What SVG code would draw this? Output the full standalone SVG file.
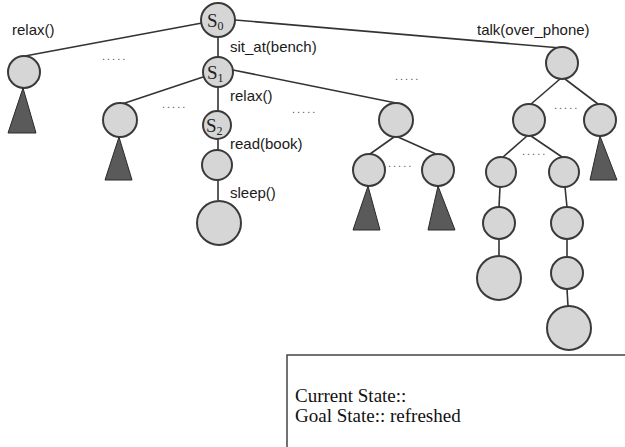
<svg xmlns="http://www.w3.org/2000/svg" width="625" height="447" viewBox="0 0 625 447">
<style>
.n{fill:#d6d6d6;stroke:#3a3a3a;stroke-width:2}
.t{fill:#5a5a5a;stroke:#2a2a2a;stroke-width:1}
.e{stroke:#333;stroke-width:1.6;fill:none}
.l{font-family:"Liberation Sans",Arial,sans-serif;font-size:15px;fill:#1a1a1a}
.d{font-family:"Liberation Sans",Arial,sans-serif;font-size:11px;fill:#555;letter-spacing:2px}
.s{font-family:"Liberation Serif","Times New Roman",serif;font-size:19px;fill:#222}
.ss{font-size:12px}
.b{font-family:"Liberation Serif","Times New Roman",serif;font-size:19px;fill:#111}
</style>
<rect width="625" height="447" fill="#fff"/>
<g id="connectors">
<line class="e" x1="202" y1="23" x2="25" y2="56"/>
<line class="e" x1="235" y1="20" x2="561" y2="48"/>
<line class="e" x1="218" y1="37" x2="218" y2="57"/>
<line class="e" x1="203" y1="77" x2="122" y2="104"/>
<line class="e" x1="233" y1="70" x2="396" y2="103"/>
<line class="e" x1="218" y1="87" x2="218" y2="111"/>
<line class="e" x1="218" y1="139" x2="218" y2="150"/>
<line class="e" x1="218" y1="180" x2="218" y2="200"/>
<line class="e" x1="394" y1="137" x2="370" y2="154"/>
<line class="e" x1="398" y1="137" x2="436" y2="154"/>
<line class="e" x1="560" y1="79" x2="531" y2="104"/>
<line class="e" x1="565" y1="79" x2="598" y2="104"/>
<line class="e" x1="527" y1="136" x2="503" y2="157"/>
<line class="e" x1="531" y1="136" x2="562" y2="157"/>
<line class="e" x1="500" y1="187" x2="499" y2="207"/>
<line class="e" x1="565" y1="187" x2="567" y2="207"/>
<line class="e" x1="499" y1="239" x2="499" y2="256"/>
<line class="e" x1="567" y1="239" x2="567" y2="257"/>
<line class="e" x1="567" y1="289" x2="568" y2="306"/>
</g>
<g id="s0"><circle class="n" cx="218" cy="20" r="17"/><text class="s" x="207" y="27">S<tspan class="ss" dy="3">0</tspan></text></g>
<g id="s1"><circle class="n" cx="218" cy="72" r="15"/><text class="s" x="207" y="79">S<tspan class="ss" dy="3">1</tspan></text></g>
<g id="s2"><circle class="n" cx="217" cy="125" r="14"/><text class="s" x="206" y="132">S<tspan class="ss" dy="3">2</tspan></text></g>
<g id="s3"><circle class="n" cx="217" cy="165" r="15"/></g>
<g id="s4"><circle class="n" cx="219" cy="223" r="22"/></g>
<g id="a1"><circle class="n" cx="24" cy="72" r="16"/><polygon class="t" points="23,88 8,133 36,133"/></g>
<g id="b1"><circle class="n" cx="120" cy="120" r="17"/><polygon class="t" points="119,137 105,180 132,180"/></g>
<g id="c1"><circle class="n" cx="396" cy="120" r="17"/></g>
<g id="c2"><circle class="n" cx="369" cy="170" r="16"/><polygon class="t" points="368,186 353,230 380,230"/></g>
<g id="c3"><circle class="n" cx="438" cy="170" r="16"/><polygon class="t" points="438,186 428,230 455,230"/></g>
<g id="r1"><circle class="n" cx="562" cy="63" r="16"/></g>
<g id="r2"><circle class="n" cx="529" cy="120" r="16"/></g>
<g id="r3"><circle class="n" cx="600" cy="120" r="16"/><polygon class="t" points="600,136 590,180 617,180"/></g>
<g id="r4"><circle class="n" cx="501" cy="172" r="15"/></g>
<g id="r5"><circle class="n" cx="564" cy="172" r="15"/></g>
<g id="r6"><circle class="n" cx="499" cy="223" r="16"/></g>
<g id="r7"><circle class="n" cx="499" cy="278" r="22"/></g>
<g id="r8"><circle class="n" cx="567" cy="223" r="16"/></g>
<g id="r9"><circle class="n" cx="567" cy="273" r="16"/></g>
<g id="r10"><circle class="n" cx="569" cy="328" r="22"/></g>
<g id="labels">
<text class="l" x="12" y="35">relax()</text>
<text class="l" x="230" y="52">sit_at(bench)</text>
<text class="l" x="230" y="101">relax()</text>
<text class="l" x="230" y="149">read(book)</text>
<text class="l" x="230" y="198">sleep()</text>
<text class="l" x="477" y="35">talk(over_phone)</text>
<text class="d" x="102" y="60">.....</text>
<text class="d" x="162" y="108">.....</text>
<text class="d" x="292" y="113">.....</text>
<text class="d" x="395" y="80">.....</text>
<text class="d" x="388" y="167">.....</text>
<text class="d" x="554" y="109">.....</text>
<text class="d" x="522" y="155">.....</text>
</g>
<g id="state">
<rect x="287" y="355" width="350" height="100" fill="#fff" stroke="#444" stroke-width="1.5"/>
<text class="b" x="295" y="402">Current State::</text>
<text class="b" x="295" y="422">Goal State:: refreshed</text>
</g>
</svg>
